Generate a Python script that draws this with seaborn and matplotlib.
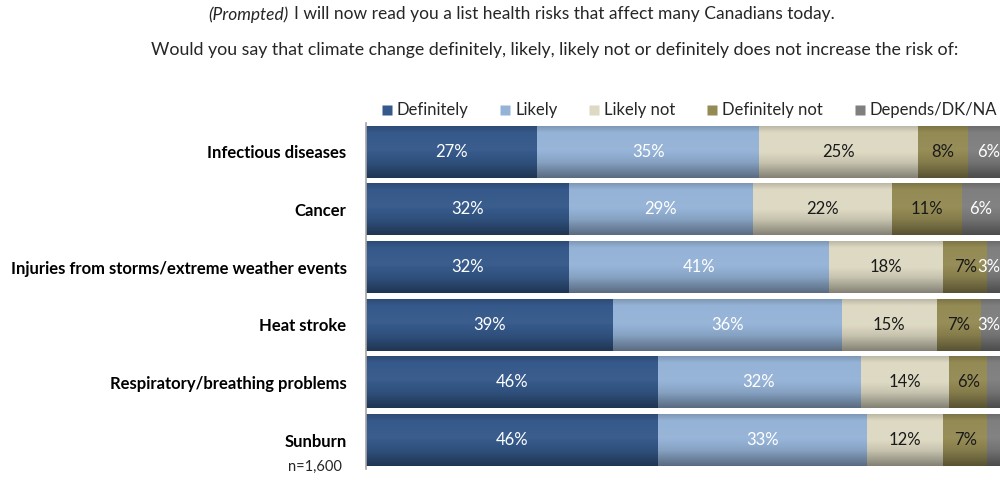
import numpy as np
import matplotlib
matplotlib.use("Agg")
import matplotlib.pyplot as plt
import matplotlib.colors as mcolors
import pandas as pd
import seaborn as sns

categories = ["Infectious diseases", "Cancer", "Injuries from storms/extreme weather events",
              "Heat stroke", "Respiratory/breathing problems", "Sunburn"]
responses = ["Definitely", "Likely", "Likely not", "Definitely not", "Depends/DK/NA"]
definitely = [27, 32, 32, 39, 46, 46]
likely = [35, 29, 41, 36, 32, 33]
likely_not = [25, 22, 18, 15, 14, 12]
definitely_not = [8, 11, 7, 7, 6, 7]
depends = [6, 6, 3, 3, 2, 2]
# labels shown on the chart (the thinnest grey slices carry none)
depends_shown = ["6%", "6%", "3%", "3%", "", ""]

colors = ["#35598a", "#95b3d7", "#ddd9c3", "#948a54", "#7f7f7f"]
text_colors = ["white", "white", "#1a1a1a", "#1a1a1a", "white"]

sns.set_theme(style="white")
plt.rcParams["font.family"] = ["Lato", "DejaVu Sans"]

fig = plt.figure(figsize=(10, 4.8), dpi=100)
ax = fig.add_axes([0.366, 0.023, 0.634, 0.721])

series = [definitely, likely, likely_not, definitely_not, depends]
left = np.zeros(len(categories))
for name, vals, col in zip(responses, series, colors):
    df = pd.DataFrame({"category": categories, "value": vals})
    sns.barplot(data=df, x="value", y="category", order=categories, orient="h",
                color=col, width=0.9, left=left.copy(), ax=ax, saturation=1,
                edgecolor="none", linewidth=0)
    left += np.array(vals)


def shade(c, f):
    r = np.array(mcolors.to_rgb(c))
    if f >= 1:
        return r + (1 - r) * (f - 1)
    return r * f


# Excel-style vertical gradient on each bar
patches = list(ax.patches)
for p in patches:
    base = p.get_facecolor()
    x0, y0 = p.get_x(), p.get_y()
    w, h = p.get_width(), p.get_height()
    t = np.linspace(0, 1, 64)
    fac = np.interp(t, [0, 0.12, 0.45, 0.7, 1], [0.85, 1.0, 1.03, 0.9, 0.6])
    grad = np.array([shade(base, f) for f in fac]).clip(0, 1)[:, None, :]
    im = ax.imshow(grad, extent=[x0, x0 + w, y0 + h, y0], aspect="auto",
                   zorder=p.get_zorder() + 0.1, interpolation="bilinear")
    im.set_clip_path(p)

ax.set_xlim(0, 100)
ax.set_ylim(len(categories) - 0.5, -0.5)
ax.set_xlabel("")
ax.set_ylabel("")
ax.set_xticks([])
ax.tick_params(axis="y", length=0, pad=14)
for lab in ax.get_yticklabels():
    lab.set_fontweight("bold")
    lab.set_fontsize(12)
    lab.set_color("black")
for s in ["top", "right", "bottom"]:
    ax.spines[s].set_visible(False)
ax.spines["left"].set_color("#a6a6a6")
ax.spines["left"].set_linewidth(1.2)

# percentage labels
for i in range(len(categories)):
    start = 0
    for j, vals in enumerate(series):
        v = vals[i]
        txt = f"{v}%" if j < 4 else depends_shown[i]
        if txt:
            if start + v / 2 > 97.8:
                ax.text(100, i, txt, ha="right", va="center",
                        color=text_colors[j], fontsize=12, zorder=10)
            else:
                ax.text(start + v / 2, i, txt, ha="center", va="center",
                        color=text_colors[j], fontsize=12, zorder=10)
        start += v

handles = [plt.Line2D([], [], marker="s", linestyle="none", markersize=7,
                      markerfacecolor=c, markeredgecolor="none") for c in colors]
fig.legend(handles, responses, loc="center right", bbox_to_anchor=(1.012, 0.77),
           ncol=5, frameon=False, fontsize=12, handletextpad=0.1,
           columnspacing=1.7, handlelength=1.0)

fig.text(0.289, 0.97, "(Prompted)", fontsize=12.5, ha="right", va="center", style="italic")
fig.text(0.294, 0.97, "I will now read you a list health risks that affect many Canadians today.",
         fontsize=12.5, ha="left", va="center")
fig.text(0.555, 0.895,
         "Would you say that climate change definitely, likely, likely not or definitely does not increase the risk of:",
         fontsize=12.8, ha="center", va="center")
fig.text(0.315, 0.027, "n=1,600", fontsize=10.5, ha="center", va="center")

fig.savefig("out.png", dpi=100)
